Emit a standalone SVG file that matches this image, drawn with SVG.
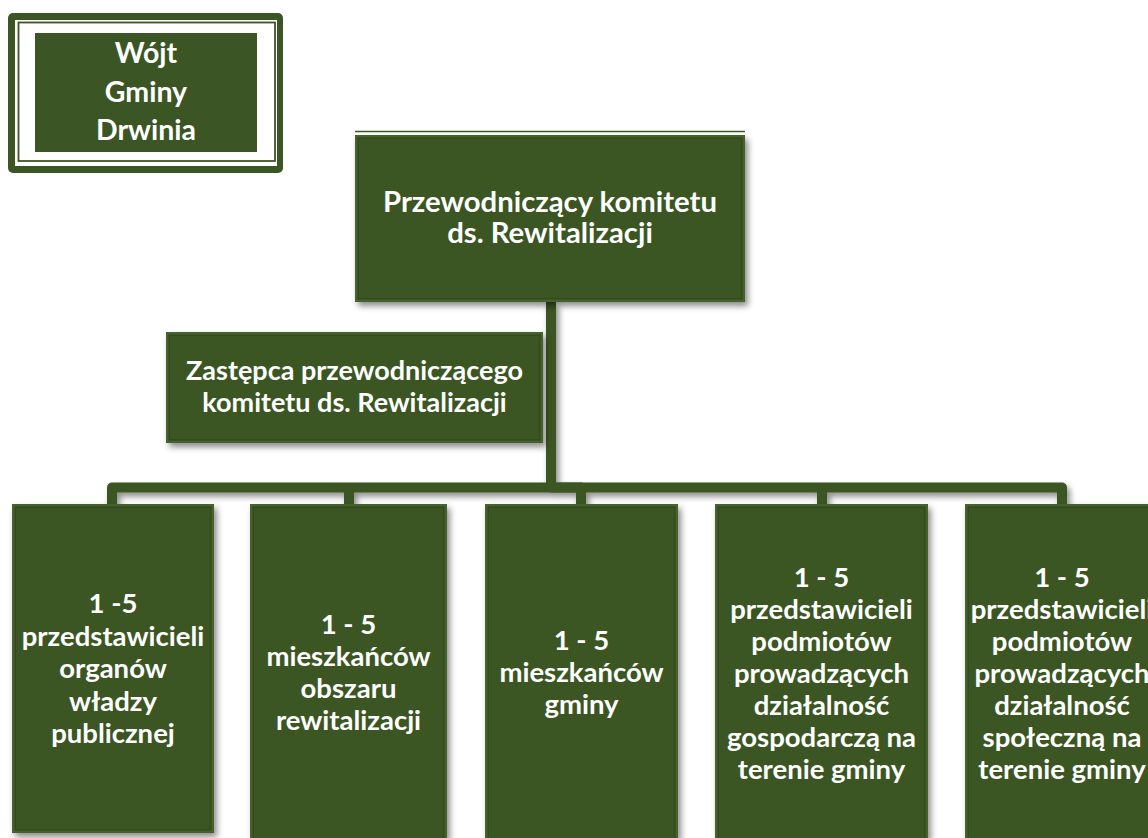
<svg xmlns="http://www.w3.org/2000/svg" width="1148" height="838" viewBox="0 0 1148 838">
<style>
.t{font-family:"Lato","Carlito","Open Sans",sans-serif;font-weight:bold;fill:#ffffff;text-anchor:middle}
.b{font-size:27.5px}
.box{fill:#3B5624}
.bev{fill:none;stroke:#2c4219;stroke-opacity:0.55;stroke-width:1}
.hl{fill:none;stroke:#5a7a42;stroke-opacity:0.6;stroke-width:1.2}
.con{fill:none;stroke:#3B5624;stroke-width:10;stroke-linejoin:round}
</style>
<defs>
<filter id="sh" x="-10%" y="-10%" width="130%" height="130%">
<feDropShadow dx="3" dy="4" stdDeviation="3" flood-color="#000" flood-opacity="0.45"/>
</filter>
</defs>
<rect width="1148" height="838" fill="#ffffff"/>

<g id="connectors" filter="url(#sh)">
<path class="con" d="M112,505 V487.5 H1062 V505"/>
<path class="con" d="M349,487.5 V505"/>
<path class="con" d="M822,487.5 V505"/>
<path class="con" d="M551,302 V487.5 H581 V505"/>
</g>

<g id="wojt">
<rect x="8" y="13" width="275" height="160" rx="5" fill="#3B5624"/>
<rect x="15" y="20" width="262" height="146" fill="#ffffff"/>
<rect x="18.5" y="22.5" width="256.5" height="138.5" fill="none" stroke="#3B5624" stroke-width="1.8"/>
<rect x="35" y="33" width="222" height="119" fill="#3B5624"/>
<text class="t" font-size="28.5" x="146" y="63">Wójt</text>
<text class="t" font-size="28.5" x="146" y="102">Gminy</text>
<text class="t" font-size="28.5" x="146" y="140">Drwinia</text>
</g>

<g id="przewodniczacy">
<line x1="355" y1="131.5" x2="745" y2="131.5" stroke="#3B5624" stroke-width="1.5"/>
<rect class="box" x="355" y="135" width="390" height="167" filter="url(#sh)"/>
<rect class="hl" x="356" y="136" width="388" height="165"/>
<rect class="bev" x="358.5" y="138.5" width="383" height="160"/>
<text class="t" font-size="29.3" x="550" y="212">Przewodniczący komitetu</text>
<text class="t" font-size="29.3" x="550" y="243">ds. Rewitalizacji</text>
</g>

<g id="zastepca">
<rect class="box" x="166" y="332" width="377" height="111" filter="url(#sh)"/>
<rect class="hl" x="167" y="333" width="375" height="109"/>
<rect class="bev" x="169.5" y="335.5" width="370" height="104"/>
<text class="t" font-size="27" x="354.5" y="380">Zastępca przewodniczącego</text>
<text class="t" font-size="27" x="354.5" y="412">komitetu ds. Rewitalizacji</text>
</g>

<g id="box1">
<rect class="box" x="12" y="504" width="202" height="329" filter="url(#sh)"/>
<rect class="hl" x="13" y="505" width="200" height="327"/>
<rect class="bev" x="15.5" y="507.5" width="195" height="322"/>
<text class="t b" x="113" y="613">1 -5</text>
<text class="t b" x="113" y="645.5">przedstawicieli</text>
<text class="t b" x="113" y="678">organów</text>
<text class="t b" x="113" y="710.5">władzy</text>
<text class="t b" x="113" y="743">publicznej</text>
</g>

<g id="box2">
<rect class="box" x="250" y="504" width="197" height="334" filter="url(#sh)"/>
<rect class="hl" x="251" y="505" width="195" height="340"/>
<rect class="bev" x="253.5" y="507.5" width="190" height="340"/>
<text class="t b" x="348.5" y="634">1 - 5</text>
<text class="t b" x="348.5" y="666">mieszkańców</text>
<text class="t b" x="348.5" y="698">obszaru</text>
<text class="t b" x="348.5" y="730">rewitalizacji</text>
</g>

<g id="box3">
<rect class="box" x="485" y="504" width="193" height="334" filter="url(#sh)"/>
<rect class="hl" x="486" y="505" width="191" height="340"/>
<rect class="bev" x="488.5" y="507.5" width="186" height="340"/>
<text class="t b" x="581.5" y="650">1 - 5</text>
<text class="t b" x="581.5" y="682">mieszkańców</text>
<text class="t b" x="581.5" y="714">gminy</text>
</g>

<g id="box4">
<rect class="box" x="715" y="504" width="213" height="334" filter="url(#sh)"/>
<rect class="hl" x="716" y="505" width="211" height="340"/>
<rect class="bev" x="718.5" y="507.5" width="206" height="340"/>
<text class="t b" x="821.5" y="587">1 - 5</text>
<text class="t b" x="821.5" y="619">przedstawicieli</text>
<text class="t b" x="821.5" y="651">podmiotów</text>
<text class="t b" x="821.5" y="683">prowadzących</text>
<text class="t b" x="821.5" y="715">działalność</text>
<text class="t b" x="821.5" y="747">gospodarczą na</text>
<text class="t b" x="821.5" y="779">terenie gminy</text>
</g>

<g id="box5">
<rect class="box" x="965" y="504" width="194" height="334" filter="url(#sh)"/>
<rect class="hl" x="966" y="505" width="192" height="340"/>
<rect class="bev" x="968.5" y="507.5" width="187" height="340"/>
<text class="t b" x="1062" y="587">1 - 5</text>
<text class="t b" x="1062" y="619">przedstawicieli</text>
<text class="t b" x="1062" y="651">podmiotów</text>
<text class="t b" x="1062" y="683">prowadzących</text>
<text class="t b" x="1062" y="715">działalność</text>
<text class="t b" x="1062" y="747">społeczną na</text>
<text class="t b" x="1062" y="779">terenie gminy</text>
</g>
</svg>
